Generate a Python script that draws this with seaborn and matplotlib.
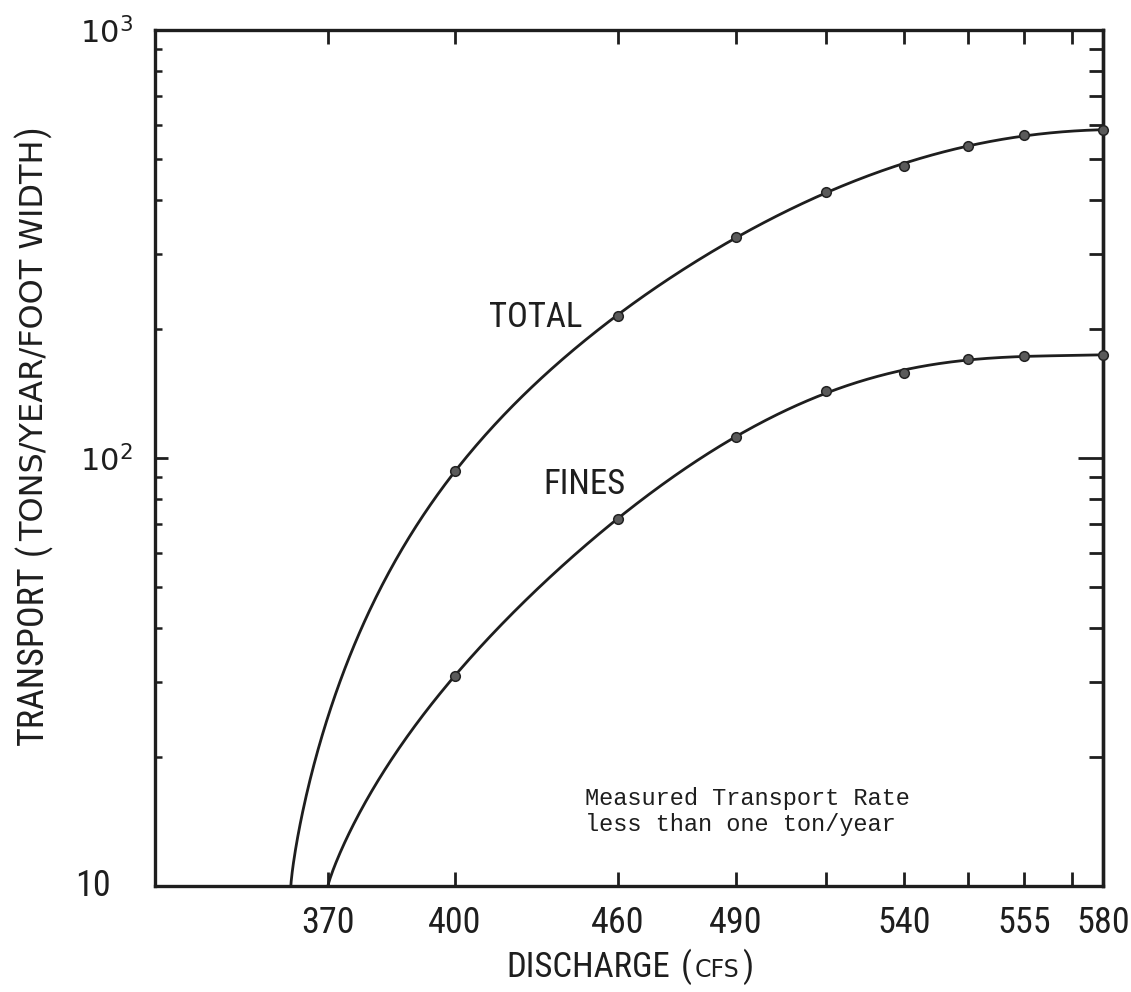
import numpy as np
import pandas as pd
import matplotlib
matplotlib.use("Agg")
import matplotlib.pyplot as plt
from matplotlib import font_manager as fm
from matplotlib.ticker import NullFormatter, LogLocator
from matplotlib.transforms import IdentityTransform, blended_transform_factory
import seaborn as sns

# ---- measured transport rates (tons/year/foot width) ----
discharge_cfs = [400, 460, 490, 515, 540, 548, 555, 580]
total_transport = [93, 215, 328, 418, 481, 536, 568, 584]
fines_transport = [31, 72, 112, 143, 158, 170, 173, 174]

# discharge where each curve drops to the 10 ton line
total_onset_cfs = 361
fines_onset_cfs = 370
floor_transport = 10

# ---- axis ticks ----
x_tick_values = [370, 400, 460, 490, 515, 540, 548, 555, 570, 580]
x_tick_labels = ["370", "400", "460", "490", "", "540", "", "555", "", "580"]
y_tick_values = [10, 100, 1000]
y_tick_labels = ["", "$10^2$", "$10^3$"]
y_floor_label = "10"

# graduated discharge scale: knot discharges and their fraction along the axis
scale_cfs = [328, 370, 400, 460, 490, 515, 540, 548, 555, 570, 580]
scale_frac = [0.0, 0.1825, 0.3165, 0.4884, 0.6129, 0.7078, 0.7901,
              0.8576, 0.9167, 0.9673, 1.0]


def to_frac(q):
    return np.interp(q, scale_cfs, scale_frac)


def to_cfs(p):
    return np.interp(p, scale_frac, scale_cfs)


def smooth_curve(onset, q, v, degree, power, n=500):
    """French-curve style fit: log transport against a stretched axis position."""
    p = to_frac([onset] + list(q))
    w = (p - p[0]) ** power
    lv = np.log10([floor_transport] + list(v))
    weights = np.ones_like(w)
    weights[0] = 20.0
    weights[-1] = 4.0
    coef = np.polyfit(w, lv, degree, w=weights)
    ws = np.linspace(0, w[-1], n)
    ls = np.polyval(coef, ws)
    return to_cfs(p[0] + ws ** (1.0 / power)), 10 ** ls


sns.set_theme(style="white")

# pick a condensed sans for the lettering
_fonts = fm.fontManager.ttflist
_names = {f.name for f in _fonts}
NARROW_STRETCH = "normal"
if "Liberation Sans Narrow" in _names:
    NARROW = ["Liberation Sans Narrow", "DejaVu Sans"]
elif "Roboto Condensed" in _names:
    NARROW = ["Roboto Condensed", "DejaVu Sans"]
elif any(f.name == "DejaVu Sans" and str(f.stretch) in ("condensed", "semi-condensed")
         for f in _fonts):
    NARROW = ["DejaVu Sans"]
    NARROW_STRETCH = "condensed"
else:
    NARROW = ["Liberation Sans", "DejaVu Sans"]
WIDE = ["DejaVu Sans"]
MONO = ["Liberation Mono", "DejaVu Sans Mono"]

plt.rcParams["font.family"] = NARROW
plt.rcParams["font.stretch"] = NARROW_STRETCH
plt.rcParams["mathtext.fontset"] = "dejavusans"
INK = "#1e1e1e"

fig = plt.figure(figsize=(11.31, 9.92), dpi=100, facecolor="white")
ax = fig.add_axes([0.137, 0.107, 0.838, 0.863])
ax.set_facecolor("white")
ax.set_xscale("function", functions=(to_frac, to_cfs))
ax.set_yscale("log")

curves = []
for name, onset, vals, deg, pw in [("TOTAL", total_onset_cfs, total_transport, 5, 0.8),
                                   ("FINES", fines_onset_cfs, fines_transport, 5, 0.88)]:
    cq, cv = smooth_curve(onset, discharge_cfs, vals, deg, pw)
    curves.append(pd.DataFrame({"discharge": cq, "transport": cv, "series": name}))
curve_df = pd.concat(curves, ignore_index=True)

points_df = pd.DataFrame({
    "discharge": discharge_cfs * 2,
    "transport": total_transport + fines_transport,
    "series": ["TOTAL"] * len(discharge_cfs) + ["FINES"] * len(discharge_cfs),
})

sns.lineplot(data=curve_df, x="discharge", y="transport", units="series",
             estimator=None, sort=False, color=INK, linewidth=2.0, ax=ax,
             legend=False)
sns.scatterplot(data=points_df, x="discharge", y="transport", color="#5a5a5a",
                edgecolor="#222222", linewidth=1.1, s=48, zorder=4, ax=ax,
                legend=False, clip_on=False)

ax.set_xlim(scale_cfs[0], scale_cfs[-1])
ax.set_ylim(10, 1000)

ax.set_xticks(x_tick_values, x_tick_labels)
ax.set_yticks(y_tick_values, y_tick_labels)
ax.yaxis.set_minor_locator(LogLocator(base=10, subs=np.arange(2, 10)))
ax.yaxis.set_minor_formatter(NullFormatter())
ax.set_xlabel("")
ax.set_ylabel("")

ax.tick_params(axis="x", which="major", direction="in", length=10, width=2,
               top=True, bottom=True, pad=14, labelsize=26, colors=INK)
ax.tick_params(axis="y", which="major", direction="in", length=9, width=2,
               left=True, right=False, pad=16, labelsize=22, colors=INK)
ax.tick_params(axis="y", which="minor", direction="in", length=5, width=1.8,
               left=True, right=False, colors=INK)

# the floor value is lettered further out than the powers of ten
ax.text(-0.047, y_tick_values[0], y_floor_label, fontsize=26, color=INK,
        ha="right", va="center",
        transform=blended_transform_factory(ax.transAxes, ax.transData))

# right-hand scale with longer inward ticks
sec = ax.secondary_yaxis("right")
sec.set_yticks(y_tick_values)
sec.yaxis.set_major_formatter(NullFormatter())
sec.yaxis.set_minor_locator(LogLocator(base=10, subs=np.arange(2, 10)))
sec.yaxis.set_minor_formatter(NullFormatter())
sec.tick_params(which="major", direction="in", length=18, width=2, colors=INK)
sec.tick_params(which="minor", direction="in", length=10, width=2, colors=INK)
sec.spines["right"].set_linewidth(2.4)
sec.spines["right"].set_color(INK)

for s in ax.spines.values():
    s.set_visible(True)
    s.set_linewidth(2.4)
    s.set_color(INK)

# curve names and note
ax.text(0.402, 0.664, "TOTAL", transform=ax.transAxes, ha="center",
        va="center", fontsize=25, color=INK)
ax.text(0.4536, 0.4685, "FINES", transform=ax.transAxes, ha="center",
        va="center", fontsize=25, color=INK)
ax.text(0.4536, 0.087, "Measured Transport Rate\nless than one ton/year",
        transform=ax.transAxes, ha="left", va="center", fontsize=17,
        family=MONO, stretch="normal", color=INK, linespacing=1.2)


def compound_label(parts, anchor, vertical):
    """Axis title built from pieces of different sizes sharing one baseline."""
    renderer = fig.canvas.get_renderer()
    placed = []
    offset = 0.0
    for text, size, gap, family in parts:
        offset += gap
        t = fig.text(0, 0, text, fontsize=size, family=family, color=INK,
                     stretch=NARROW_STRETCH if family is NARROW else "normal",
                     rotation=90 if vertical else 0, rotation_mode="anchor",
                     ha="left", va="baseline", transform=IdentityTransform())
        bb = t.get_window_extent(renderer)
        placed.append((t, offset))
        offset += bb.height if vertical else bb.width
    cx, cy = anchor
    for t, o in placed:
        if vertical:
            t.set_position((cx, cy - offset / 2 + o))
        else:
            t.set_position((cx - offset / 2 + o, cy))


fig.canvas.draw()
compound_label([("DISCHARGE", 25, 0, NARROW), ("(", 25, 10, NARROW),
                ("CFS", 17, 3, WIDE), (")", 25, 3, NARROW)],
               (630, 15), vertical=False)
compound_label([("TRANSPORT", 26, 0, NARROW), ("(", 26, 10, NARROW),
                ("TONS/YEAR/FOOT WIDTH", 23, 3, WIDE), (")", 26, 3, NARROW)],
               (43, 557), vertical=True)

fig.savefig("out.png", dpi=100, facecolor="white")
